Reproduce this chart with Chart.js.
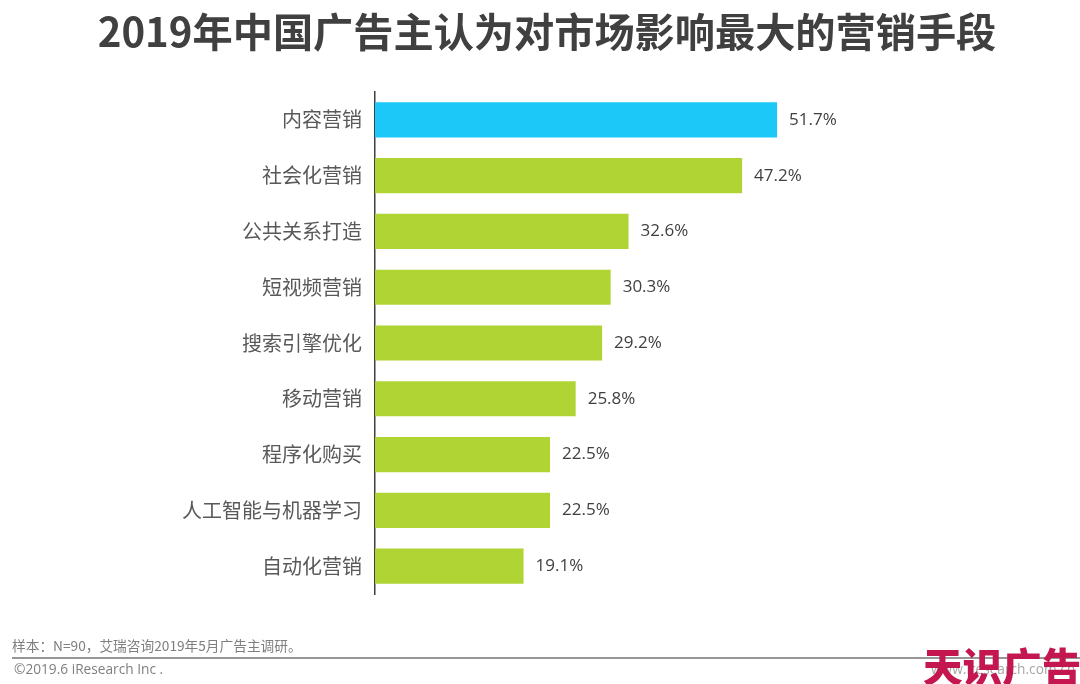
<!DOCTYPE html>
<html><head><meta charset="utf-8">
<script src="https://cdn.jsdelivr.net/npm/chart.js@4"></script>
<style>
html,body{margin:0;padding:0;background:#fff;}
#wrap{position:absolute;left:0;top:0;width:1080px;height:684px;overflow:hidden;}
.t{position:absolute;font-family:"Noto Sans CJK SC",sans-serif;white-space:nowrap;}
</style></head><body>
<div id="wrap"><canvas id="c" width="1080" height="684"></canvas>
<div class="t" style="left:0;width:1094px;text-align:center;top:4px;font-size:40.2px;font-weight:700;color:#404040;line-height:52px;">2019年中国广告主认为对市场影响最大的营销手段</div>
<div class="t" style="left:12px;top:636px;font-size:13.7px;color:#7f7f7f;line-height:18px;">样本：N=90，艾瑞咨询2019年5月广告主调研。</div>
<div style="position:absolute;left:12px;top:657px;width:1068px;height:2px;background:#969696;"></div>
<div class="t" style="left:14px;top:660px;font-size:13.7px;color:#7f7f7f;line-height:18px;font-family:'Open Sans',sans-serif;">©2019.6 iResearch Inc .</div>
<div class="t" style="left:931px;top:660px;font-size:13.7px;color:#a6a6a6;line-height:18px;font-family:'Open Sans',sans-serif;">www.iresearch.com.cn</div>
<div class="t" style="left:923px;top:639px;font-size:39.6px;font-weight:900;color:#c5174f;line-height:52px;">天识广告</div>
</div>
<script>
const categories=["内容营销","社会化营销","公共关系打造","短视频营销","搜索引擎优化","移动营销","程序化购买","人工智能与机器学习","自动化营销"];
const values=[51.7,47.2,32.6,30.3,29.2,25.8,22.5,22.5,19.1];
const barColors=["#1cc8f8","#b0d434","#b0d434","#b0d434","#b0d434","#b0d434","#b0d434","#b0d434","#b0d434"];
const labelPlugin={id:'lbl',afterDatasetsDraw(ch){const{ctx}=ch;const m=ch.getDatasetMeta(0);ctx.save();ctx.font='17px "Open Sans",sans-serif';ctx.fillStyle='#404040';ctx.textBaseline='middle';m.data.forEach((b,i)=>{ctx.fillText(values[i].toFixed(1)+'%',b.x+12,b.y);});ctx.restore();}};
new Chart(document.getElementById('c'),{type:'bar',data:{labels:categories,datasets:[{data:values,backgroundColor:barColors,barPercentage:0.63,categoryPercentage:1}]},
options:{indexAxis:'y',responsive:false,animation:false,
layout:{padding:{left:0,right:5,top:92,bottom:90}},
plugins:{legend:{display:false},tooltip:{enabled:false}},
scales:{x:{display:false,min:0,max:90},
y:{afterFit(a){a.width=375;},grid:{display:false,drawTicks:false},border:{color:'#404040',width:1.5},ticks:{color:'#595959',font:{size:20,family:'"Noto Sans CJK SC"'},padding:13}}}},
plugins:[labelPlugin]});
</script></body></html>
